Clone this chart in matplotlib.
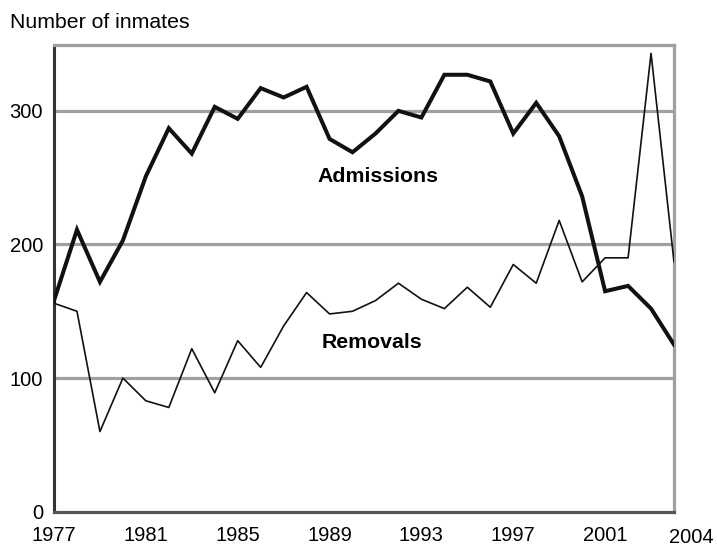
import matplotlib
matplotlib.use('Agg')
import matplotlib.pyplot as plt

plt.rcParams['font.family'] = ['Liberation Sans', 'DejaVu Sans']

years = list(range(1977, 2005))
admissions = [158, 211, 172, 203, 251, 287, 268, 303, 294, 317, 310, 318, 279, 269,
              283, 300, 295, 327, 327, 322, 283, 306, 281, 236, 165, 169, 152, 125]
removals = [156, 150, 60, 100, 83, 78, 122, 89, 128, 108, 139, 164, 148, 150,
            158, 171, 159, 152, 168, 153, 185, 171, 218, 172, 190, 190, 343, 187]
xticks = [1977, 1981, 1985, 1989, 1993, 1997, 2001]
yticks = [0, 100, 200, 300]

fig = plt.figure(figsize=(7.17, 5.48), dpi=100)
ax = fig.add_axes([54/717, 1-511.7/548, 620/717, 467/548])

grid_col = '#a0a0a0'
for y in yticks[1:]:
    ax.axhline(y, color=grid_col, lw=2.3, zorder=1)

ax.plot(years, removals, color='#111111', lw=1.2, zorder=3)
ax.plot(years, admissions, color='#111111', lw=2.9, zorder=4, solid_joinstyle='miter')

ax.set_xlim(1977, 2004)
ax.set_ylim(0, 349.5)
ax.set_xticks(xticks)
ax.set_yticks(yticks)
ax.tick_params(axis='both', length=0, labelsize=14.5)
ax.tick_params(axis='x', pad=10.5)
ax.tick_params(axis='y', pad=8)

# last year label sits off to the right and a bit lower
ax.annotate('2004', xy=(2004, 0), xycoords='data', xytext=(12.5, -12),
            textcoords='offset points', ha='center', va='top', fontsize=14.5,
            annotation_clip=False)

for s in ['top', 'right']:
    ax.spines[s].set_color(grid_col)
    ax.spines[s].set_linewidth(2.3)
ax.spines['left'].set_color('#333333')
ax.spines['left'].set_linewidth(2.2)
ax.spines['bottom'].set_color('#555555')
ax.spines['bottom'].set_linewidth(2.3)

ax.text(1991.1, 250.5, 'Admissions', fontsize=15.3, fontweight='bold', ha='center', va='center')
ax.text(1990.85, 127, 'Removals', fontsize=15.3, fontweight='bold', ha='center', va='center')

fig.text(10/717, 1-28/548, 'Number of inmates', fontsize=15.3, ha='left', va='baseline')

fig.savefig('out.png', dpi=100)
